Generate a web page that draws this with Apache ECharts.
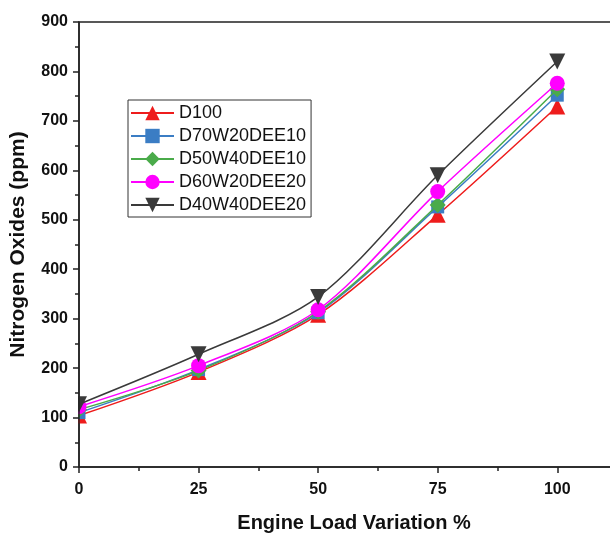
<!DOCTYPE html>
<html><head><meta charset="utf-8">
<script src="https://cdn.jsdelivr.net/npm/echarts@6/dist/echarts.min.js"></script>
<style>html,body{margin:0;padding:0;background:#fff}#c{width:610px;height:533px}</style>
</head><body><div id="c"></div>
<script>
const loads = [0, 25, 50, 75, 100];
const seriesNames = ['D100', 'D70W20DEE10', 'D50W40DEE10', 'D60W20DEE20', 'D40W40DEE20'];
const d100 = [104, 192, 308, 510, 729];
const d70w20dee10 = [110, 197, 312, 526, 752];
const d50w40dee10 = [116, 195, 314, 530, 764];
const d60w20dee20 = [122, 205, 318, 557, 776];
const d40w40dee20 = [127, 228, 344, 590, 820];
const yTicks = [0, 100, 200, 300, 400, 500, 600, 700, 800, 900];
const xTicks = [0, 25, 50, 75, 100];

const values = [d100, d70w20dee10, d50w40dee10, d60w20dee20, d40w40dee20];
const colors = ['#ee1c1c', '#3b7dc4', '#4aab4a', '#ff00ff', '#3a3a3a'];
const symbols = ['triangle', 'rect', 'diamond', 'circle', 'path://M0,0 L10,0 L5,9 Z'];
const sizes = [16, 13, 16, 15, 16];

const GL = 79, GT = 22, GH = 445;
const chart = echarts.init(document.getElementById('c'));
const font = 'Liberation Sans, Arial, sans-serif';
chart.setOption({
  animation: false,
  backgroundColor: '#fff',
  grid: { left: GL, top: GT, height: GH, width: 550, show: true, borderColor: '#222', borderWidth: 1.5,
          containLabel: false, outerBoundsMode: 'none' },
  graphic: { elements: [{ type: 'rect', zlevel: 1, z: 100,
              shape: { x: 0, y: GT - 12, width: GL - 1, height: GH + 10 },
              style: { fill: '#ffffff' }, silent: true }] },
  legend: {
    orient: 'vertical', left: 128, top: 100,
    data: seriesNames,
    itemWidth: 43, itemHeight: 18, itemGap: 5,
    borderColor: '#333', borderWidth: 1, padding: [4, 5, 3, 2],
    textStyle: { fontFamily: font, fontSize: 18, color: '#111' }
  },
  xAxis: {
    type: 'value', min: 0, max: 115, interval: 25,
    name: 'Engine Load Variation %', nameLocation: 'middle', nameGap: 46,
    nameTextStyle: { fontFamily: font, fontSize: 20, fontWeight: 'bold', color: '#111' },
    axisLine: { lineStyle: { color: '#222', width: 1.5 } },
    axisTick: { show: true, length: 6, lineStyle: { color: '#222', width: 1.5 } },
    minorTick: { show: true, splitNumber: 2, length: 4, lineStyle: { color: '#222', width: 1.5 } },
    axisLabel: { fontFamily: font, fontSize: 16, fontWeight: 'bold', color: '#111', margin: 15,
      formatter: v => (xTicks.includes(v) ? String(v) : '') },
    splitLine: { show: false }
  },
  yAxis: {
    type: 'value', min: 0, max: 900, interval: 100, zlevel: 2,
    name: 'Nitrogen Oxides (ppm)', nameLocation: 'middle', nameGap: 50,
    nameTextStyle: { fontFamily: font, fontSize: 21, fontWeight: 'bold', color: '#111' },
    axisLine: { show: true, lineStyle: { color: '#222', width: 1.5 } },
    axisTick: { show: true, length: 6, lineStyle: { color: '#222', width: 1.5 } },
    minorTick: { show: true, splitNumber: 2, length: 4, lineStyle: { color: '#222', width: 1.5 } },
    axisLabel: { fontFamily: font, fontSize: 16, fontWeight: 'bold', color: '#111', margin: 11,
      formatter: v => (yTicks.includes(v) ? String(v) : '') },
    splitLine: { show: false }
  },
  series: seriesNames.map((n, i) => ({
    name: n, type: 'line', smooth: 0.3,
    data: loads.map((x, j) => [x, values[i][j]]),
    symbol: symbols[i], symbolSize: sizes[i],
    itemStyle: { color: colors[i] },
    lineStyle: { color: colors[i], width: 1.5 },
    z: 2 + i
  }))
});
</script></body></html>
